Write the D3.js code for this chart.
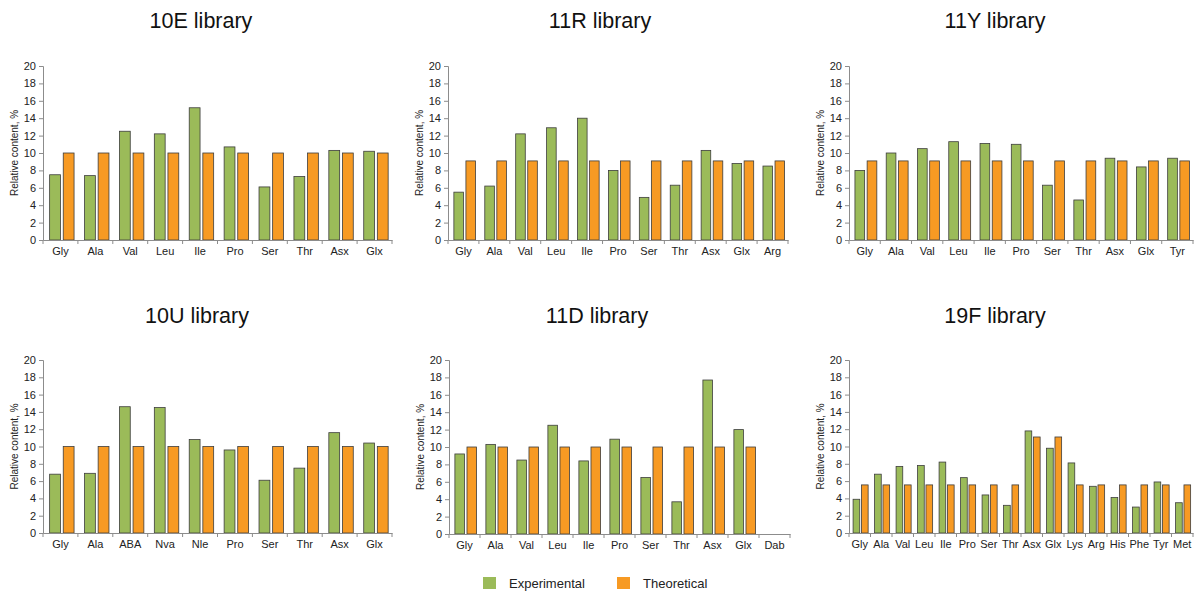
<!DOCTYPE html>
<html><head><meta charset="utf-8">
<script src="https://cdn.jsdelivr.net/npm/d3@7"></script>
<style>body{margin:0;background:#fff;} svg{display:block;font-family:"Liberation Sans",Arial,sans-serif;}</style>
</head><body>
<svg id="c" width="1196" height="597"></svg>
<script>
const titles = ["10E library","11R library","11Y library","10U library","11D library","19F library"];
const cats10E = ["Gly","Ala","Val","Leu","Ile","Pro","Ser","Thr","Asx","Glx"];
const exp10E = [7.5,7.4,12.5,12.2,15.2,10.7,6.1,7.3,10.3,10.2];
const theo10E = [10,10,10,10,10,10,10,10,10,10];
const cats11R = ["Gly","Ala","Val","Leu","Ile","Pro","Ser","Thr","Asx","Glx","Arg"];
const exp11R = [5.5,6.2,12.2,12.9,14.0,8.0,4.9,6.3,10.3,8.8,8.5];
const theo11R = [9.09,9.09,9.09,9.09,9.09,9.09,9.09,9.09,9.09,9.09,9.09];
const cats11Y = ["Gly","Ala","Val","Leu","Ile","Pro","Ser","Thr","Asx","Glx","Tyr"];
const exp11Y = [8.0,10.0,10.5,11.3,11.1,11.0,6.3,4.6,9.4,8.4,9.4];
const theo11Y = [9.09,9.09,9.09,9.09,9.09,9.09,9.09,9.09,9.09,9.09,9.09];
const cats10U = ["Gly","Ala","ABA","Nva","Nle","Pro","Ser","Thr","Asx","Glx"];
const exp10U = [6.8,6.9,14.6,14.5,10.8,9.6,6.1,7.5,11.6,10.4];
const theo10U = [10,10,10,10,10,10,10,10,10,10];
const cats11D = ["Gly","Ala","Val","Leu","Ile","Pro","Ser","Thr","Asx","Glx","Dab"];
const exp11D = [9.2,10.3,8.5,12.5,8.4,10.9,6.5,3.7,17.7,12.0,0];
const theo11D = [10,10,10,10,10,10,10,10,10,10,0];
const cats19F = ["Gly","Ala","Val","Leu","Ile","Pro","Ser","Thr","Asx","Glx","Lys","Arg","His","Phe","Tyr","Met"];
const exp19F = [3.9,6.8,7.7,7.8,8.2,6.4,4.4,3.2,11.8,9.8,8.1,5.4,4.1,3.0,5.9,3.5];
const theo19F = [5.56,5.56,5.56,5.56,5.56,5.56,5.56,5.56,11.1,11.1,5.56,5.56,5.56,5.56,5.56,5.56];
const yTicks = [0,2,4,6,8,10,12,14,16,18,20];
const seriesNames = ["Experimental","Theoretical"];

const GREEN = "#9bbb59", ORANGE = "#f79a23", AXIS = "#8c8c8c", TXT = "#222";
const panels = [
  {cats:cats10E, e:exp10E, t:theo10E, x0:43, x1:392, yt:66, yb:240, tx:201, ty:28},
  {cats:cats11R, e:exp11R, t:theo11R, x0:448, x1:788, yt:66, yb:240, tx:600, ty:28},
  {cats:cats11Y, e:exp11Y, t:theo11Y, x0:849, x1:1193, yt:66, yb:240, tx:995, ty:28},
  {cats:cats10U, e:exp10U, t:theo10U, x0:43, x1:392, yt:360, yb:533, tx:197, ty:323},
  {cats:cats11D, e:exp11D, t:theo11D, x0:449, x1:790, yt:360, yb:534, tx:597, ty:323},
  {cats:cats19F, e:exp19F, t:theo19F, x0:849, x1:1193, yt:360, yb:533, tx:995, ty:323}
];
const svg = d3.select("#c");
panels.forEach((p,i)=>{
  const g = svg.append("g");
  g.append("text").attr("x",p.tx).attr("y",p.ty).attr("text-anchor","middle")
    .attr("font-size",21.5).attr("fill","#111").text(titles[i]);
  const x = d3.scaleBand().domain(p.cats).range([p.x0,p.x1]);
  const y = d3.scaleLinear().domain([0,20]).range([p.yb,p.yt]);
  const bw = x.bandwidth()*0.31, gap = x.bandwidth()*0.08, sh = x.bandwidth()*0.04;
  const data = p.cats.map((c,j)=>({c, e:p.e[j], t:p.t[j]}));
  const bars = g.append("g");
  data.forEach(d=>{
    const cx = x(d.c)+x.bandwidth()/2+sh;
    if(d.e>0) bars.append("rect").attr("x",cx-gap/2-bw).attr("width",bw)
      .attr("y",y(d.e)).attr("height",y(0)-y(d.e)).attr("fill",GREEN)
      .attr("stroke","#3d3d3d").attr("stroke-width",0.8);
    if(d.t>0) bars.append("rect").attr("x",cx+gap/2).attr("width",bw)
      .attr("y",y(d.t)).attr("height",y(0)-y(d.t)).attr("fill",ORANGE)
      .attr("stroke","#3d3d3d").attr("stroke-width",0.8);
  });
  const ya = g.append("g").attr("transform",`translate(${p.x0},0)`)
    .call(d3.axisLeft(y).tickValues(yTicks).tickSize(4).tickPadding(3));
  ya.select(".domain").attr("stroke",AXIS);
  ya.selectAll(".tick line").attr("stroke",AXIS);
  ya.selectAll("text").attr("font-size",11).attr("fill",TXT).attr("font-family","Liberation Sans, Arial, sans-serif");
  const xa = g.append("g").attr("transform",`translate(0,${p.yb})`)
    .call(d3.axisBottom(x).tickSize(0).tickPadding(7));
  xa.select(".domain").attr("stroke",AXIS);
  xa.selectAll("text").attr("font-size",11).attr("fill",TXT).attr("font-family","Liberation Sans, Arial, sans-serif");
  const bounds = p.cats.map(c=>x(c)).concat([p.x1]);
  g.append("g").selectAll("line").data(bounds).join("line")
    .attr("x1",d=>d).attr("x2",d=>d).attr("y1",p.yb).attr("y2",p.yb+4).attr("stroke",AXIS);
  g.append("text").attr("transform",`translate(${p.x0-25},${(p.yt+p.yb)/2}) rotate(-90)`)
    .attr("text-anchor","middle").attr("font-size",10).attr("fill",TXT).text("Relative content, %");
});
const lg = svg.append("g");
const legItems = [{n:seriesNames[0],c:GREEN,x:483},{n:seriesNames[1],c:ORANGE,x:617}];
legItems.forEach(l=>{
  lg.append("rect").attr("x",l.x).attr("y",577).attr("width",13).attr("height",12).attr("fill",l.c);
  lg.append("text").attr("x",l.x+26).attr("y",588).attr("font-size",13).attr("fill",TXT).text(l.n);
});
</script>
</body></html>
